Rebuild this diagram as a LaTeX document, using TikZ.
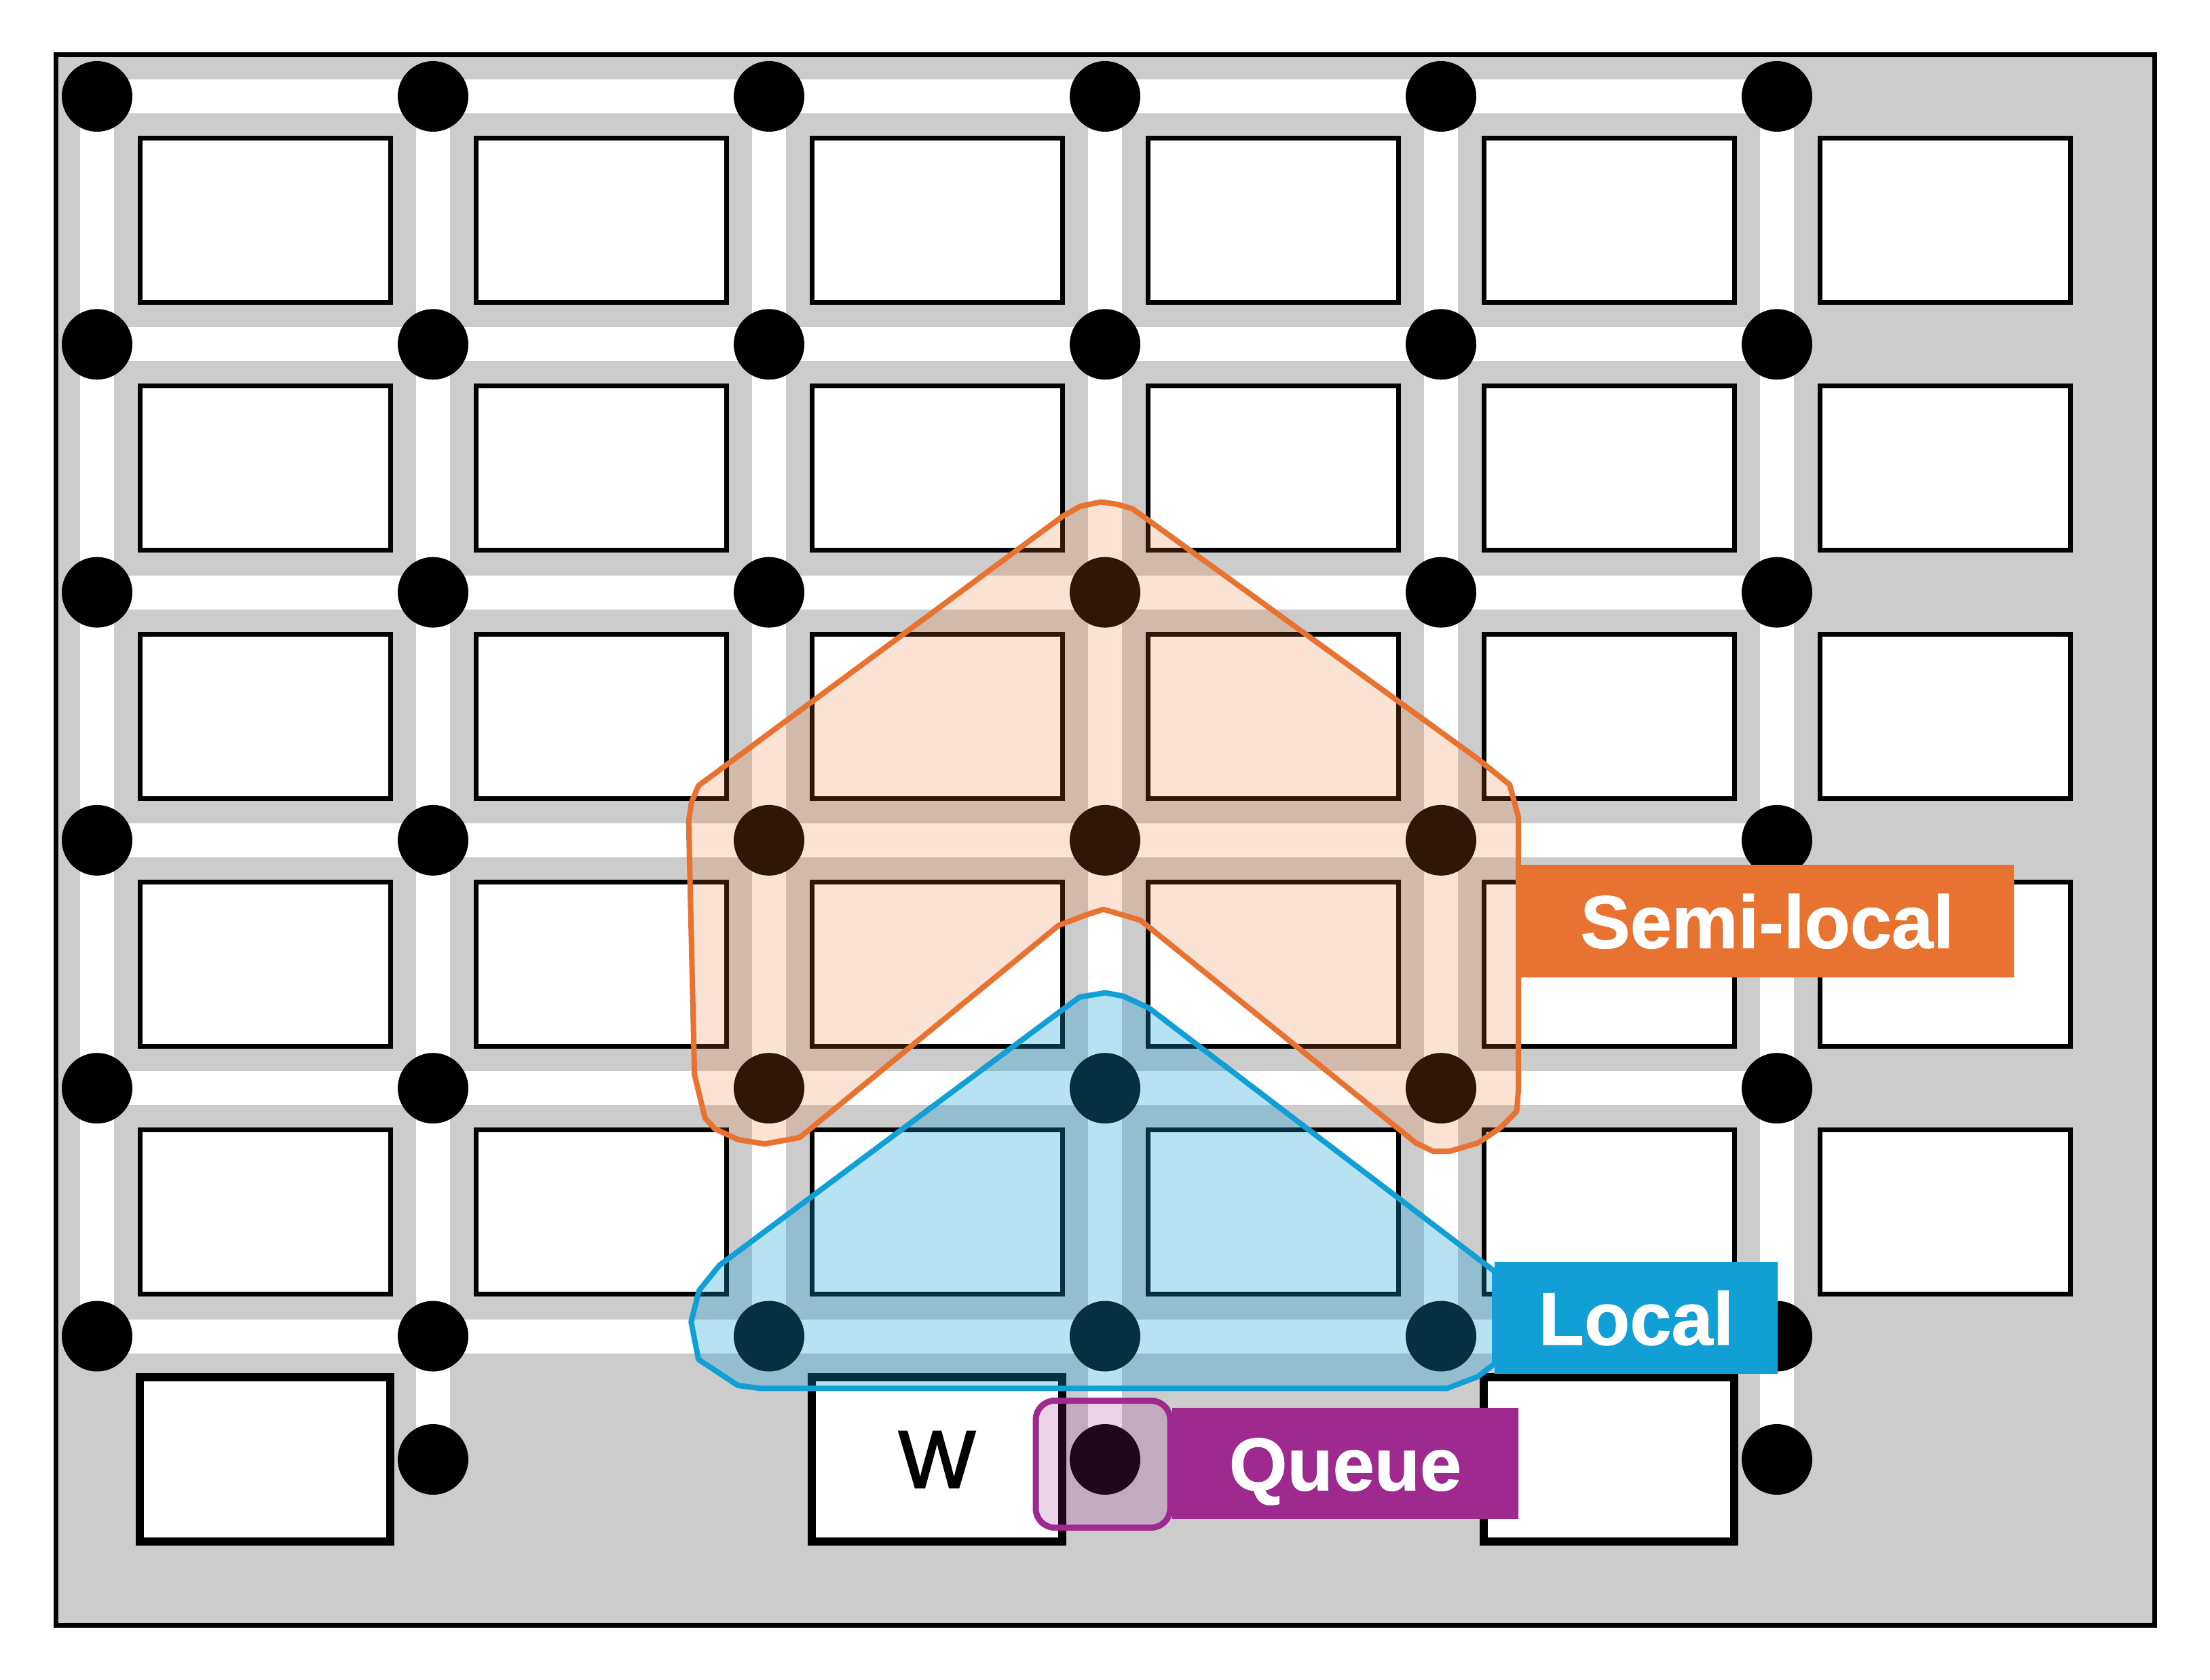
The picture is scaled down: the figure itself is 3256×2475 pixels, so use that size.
\documentclass[tikz,border=0pt]{standalone}
\usepackage{fontspec}
\setmainfont{Liberation Sans}
\newfontfamily\tagfont[FakeBold=1]{Liberation Sans Bold}
\newfontfamily\wfont[FakeBold=2]{Liberation Sans}
\definecolor{gbg}{HTML}{CCCCCC}
\definecolor{sorange}{HTML}{E8722F}
\definecolor{lblue}{HTML}{119FD6}
\definecolor{qpurple}{HTML}{9F2A8F}
\begin{document}
\begin{tikzpicture}[x=1pt,y=-1pt,
  dot/.style={circle,fill=black,minimum size=104pt,inner sep=0pt},
  cell/.style={draw=black,fill=white,line width=7pt,minimum width=369pt,minimum height=242pt,inner sep=0pt},
  cellb/.style={cell,line width=12pt},
  tag/.style={inner sep=0pt,text=white,text height=79pt,text depth=0pt,font=\tagfont\fontsize{110}{120}\selectfont},
  road/.style={fill=white},
  zone/.style={line width=8pt,line join=round},
]
\useasboundingbox (0,0) rectangle (3256,2475);
% frame
\filldraw[fill=gbg,draw=black,line width=7pt] (82,81) rectangle (3174,2394);
% roads
\foreach \j in {0,...,5} \fill[road] (118,{142+365.3*\j-25}) rectangle (2643,{142+365.3*\j+25});
\foreach \i in {0,2,4} \fill[road] ({143+495*\i-25},117) rectangle ({143+495*\i+25},1993);
\foreach \i in {1,3,5} \fill[road] ({143+495*\i-25},117) rectangle ({143+495*\i+25},2150);
% boxes
\foreach \i in {0,...,5} \foreach \j in {0,...,4}
  \node[cell] (b\i-\j) at ({390.5+495*\i},{324.6+365.3*\j}) {};
\node[cellb] (b0-5) at (390.5,2150) {};
\node[cellb,font=\wfont\fontsize{120}{130}\selectfont] (b2-5) at (1380.5,2150) {W};
\node[cellb] (b4-5) at (2370.5,2150) {};
% dots
\foreach \i in {0,...,5} \foreach \j in {0,...,5}
  \node[dot] (d\i-\j) at ({143+495*\i},{142+365.3*\j}) {};
\foreach \i in {1,3,5} \node[dot] (d\i-6) at ({143+495*\i},2150) {};
% semi-local zone
\filldraw[zone,draw=sorange,fill=sorange,fill opacity=0.2]
  (1565.6,760.6) -- (1591.4,745.9) -- (1621.5,739.5) -- (1645.6,742.7) -- (1668.9,749.7)
  -- (2176.9,1117.7) -- (2224.2,1156) -- (2237.1,1203.8) -- (2237.1,1605.6) -- (2234.5,1637.5)
  -- (2210.6,1661.5) -- (2177.4,1683.8) -- (2136,1696) -- (2111,1696) -- (2086,1683.8)
  -- (1680,1355.6) -- (1625.8,1339.7) -- (1601.7,1347.3) -- (1559.6,1363.3)
  -- (1178.2,1675.8) -- (1126.5,1685.3) -- (1087.8,1679) -- (1053.3,1663) -- (1038.7,1647)
  -- (1023.2,1583.3) -- (1014.6,1210.2) -- (1018.9,1181.5) -- (1029.2,1157.3) -- cycle;
% local zone
\filldraw[zone,draw=lblue,fill=lblue,fill opacity=0.3]
  (1590.4,1468.9) -- (1628.5,1462.5) -- (1655,1467.6) -- (1692.4,1484.8)
  -- (2202,1873) -- (2202,2009) -- (2177.4,2028) -- (2131.8,2045.4)
  -- (1120.2,2045.4) -- (1087,2041) -- (1029,2002.7) -- (1018.2,1947.2)
  -- (1030,1901) -- (1060,1864) -- cycle;
% queue zone
\node[draw=qpurple,fill=qpurple,fill opacity=0.2,line width=9pt,rounded corners=28pt,
  minimum width=198pt,minimum height=187pt,inner sep=0pt] (qbox) at (1625,2157) {};
% labels
\node[tag,fill=sorange,minimum width=727pt,minimum height=166pt] (semilbl) at (2603.5,1357) {Semi-local};
\node[tag,fill=lblue,minimum width=417pt,minimum height=165pt] (locallbl) at (2410.5,1941.5) {Local};
\node[tag,fill=qpurple,minimum width=510pt,minimum height=164pt] (qlbl) at (1982,2156) {Queue};
\end{tikzpicture}
\end{document}
